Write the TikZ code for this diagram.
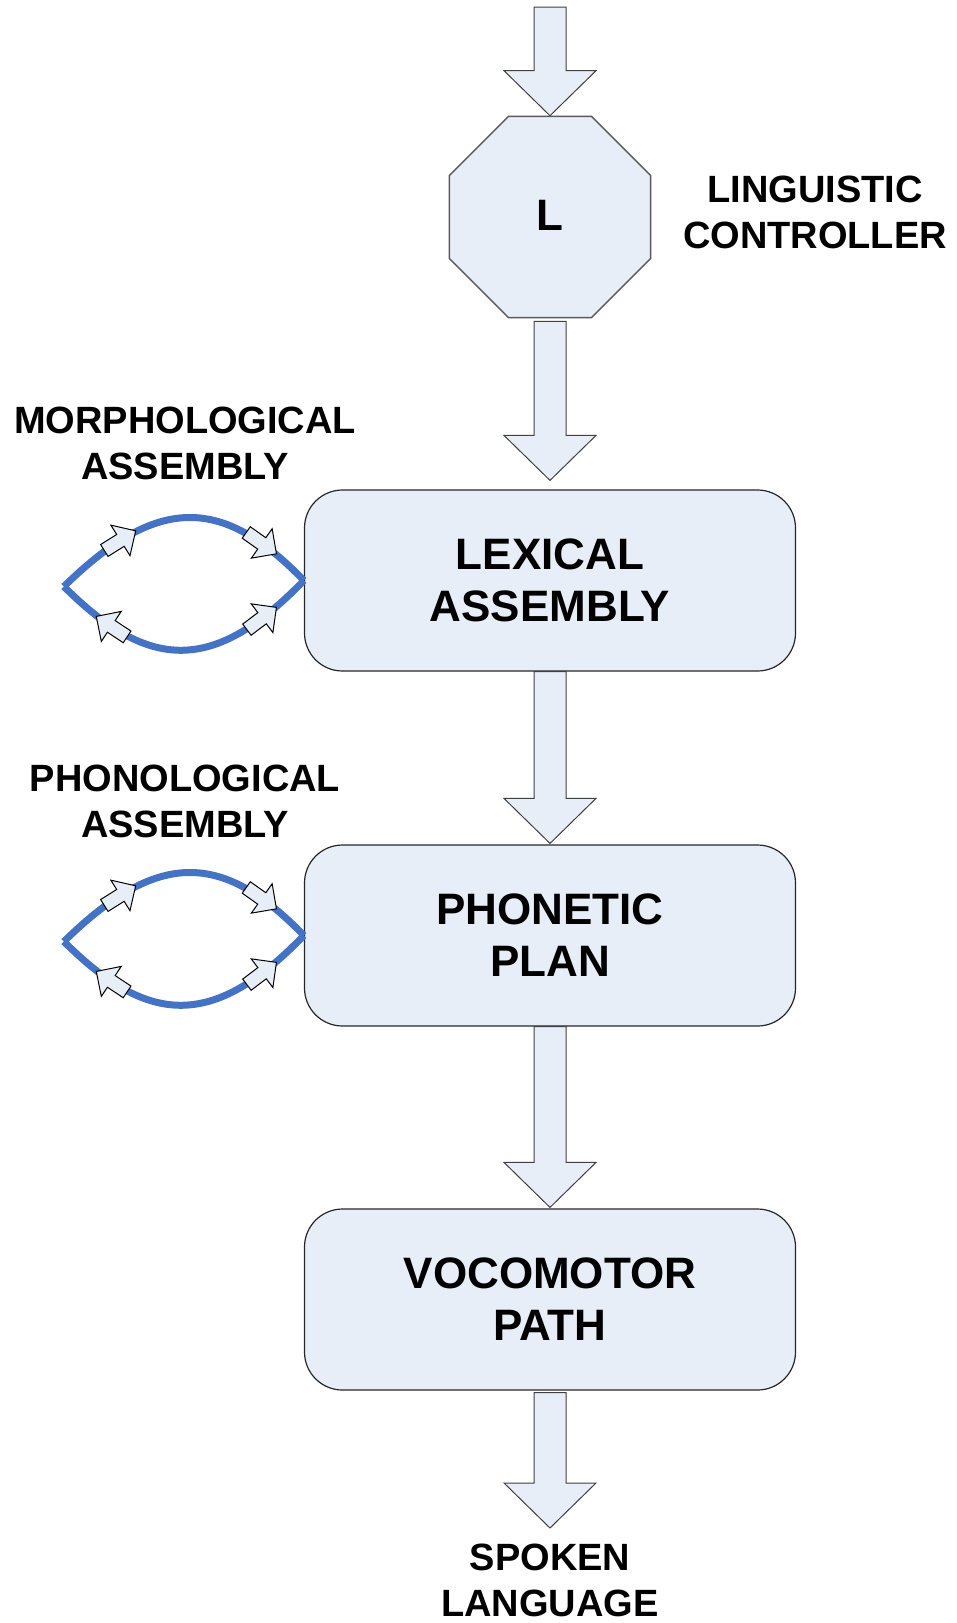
\documentclass[tikz,border=0pt]{standalone}
\usepackage{fontspec}
\setmainfont{Liberation Sans}
\usetikzlibrary{shapes.geometric,calc,decorations.markings}

\definecolor{boxfill}{RGB}{232,238,247}
\definecolor{loopblue}{RGB}{68,114,196}

\tikzset{
  stage/.style={draw=black!85, line width=1.2pt, fill=boxfill, rounded corners=38pt,
    minimum width=491pt, minimum height=181pt, align=center,
    font=\fontsize{44}{52}\selectfont\bfseries},
  ctrl/.style={draw=black!65, line width=1.5pt, fill=boxfill, regular polygon,
    regular polygon sides=8, minimum size=217.6pt, inner sep=0pt,
    font=\fontsize{44}{52}\selectfont\bfseries},
  caption/.style={align=center, font=\fontsize{38}{46}\selectfont\bfseries},
  shaft/.style={draw=black!75, line width=1pt, fill=boxfill},
  loopline/.style={draw=loopblue, line width=7pt},
  tick/.style={draw=black, line width=1pt, fill=boxfill, line join=miter},
  flowtick/.pic={\draw[tick] (-19,-7) -- (0,-7) -- (0,-18) -- (18,0) -- (0,18)
    -- (0,7) -- (-19,7) -- cycle;}
}

% block arrow from #1 down to #2
\newcommand{\bigarrow}[2]{%
  \draw[shaft] let \p1=(#1), \p2=(#2) in
    (\x1-16pt,\y1) -- (\x1-16pt,\y2+45pt) -- (\x1-46pt,\y2+45pt) -- (\x1,\y2)
    -- (\x1+46pt,\y2+45pt) -- (\x1+16pt,\y2+45pt) -- (\x1+16pt,\y1) -- cycle;}

% lens shaped loop hanging on the west side of a stage
\newcommand{\assemblyloop}[1]{%
  \begin{scope}[shift={(#1.west)}]
    \draw[loopline, postaction={decorate}, decoration={markings,
        mark=at position 0.26 with {\pic[transform shape]{flowtick};},
        mark=at position 0.8 with {\pic[transform shape]{flowtick};}}]
      (-240,6) .. controls (-147,-85) and (-82,-85) .. (0,0);
    \draw[loopline, postaction={decorate}, decoration={markings,
        mark=at position 0.22 with {\pic[transform shape,rotate=180]{flowtick};},
        mark=at position 0.8 with {\pic[transform shape]{flowtick};}}]
      (-240,6) .. controls (-154,92) and (-89,92) .. (0,0);
  \end{scope}}

\begin{document}
\begin{tikzpicture}[x=1pt,y=-1pt]
        \useasboundingbox (0,0) rectangle (957,1623);
        % Controller %
        \node[ctrl] (ctrl) at (550,217) {\raisebox{4pt}{L}};
        \node[caption] (ctrllabel) at (815,212) {LINGUISTIC\\CONTROLLER};
        % Stages %
        \node[stage] (lex) at (550,580.5) {LEXICAL\\ASSEMBLY};
        \node[stage] (phon) at (550,935.5) {PHONETIC\\PLAN};
        \node[stage] (voco) at (550,1299.5) {VOCOMOTOR\\PATH};
        \node[caption] (spoken) at (550,1580) {SPOKEN\\LANGUAGE};
        % Loops %
        \assemblyloop{lex}
        \assemblyloop{phon}
        \node[caption] (morph) at (185,443.5) {MORPHOLOGICAL\\ASSEMBLY};
        \node[caption] (phonol) at (185,801) {PHONOLOGICAL\\ASSEMBLY};
        % Arrows %
        \coordinate (intop) at (550,7);
        \coordinate (outend) at (550,1528);
        \bigarrow{intop}{ctrl.north}
        \bigarrow{$(ctrl.south)+(0,3)$}{$(lex.north)+(0,-9)$}
        \bigarrow{lex.south}{$(phon.north)+(0,-1)$}
        \bigarrow{phon.south}{$(voco.north)+(0,-1)$}
        \bigarrow{$(voco.south)+(0,2)$}{outend}

      \end{tikzpicture}
\end{document}
